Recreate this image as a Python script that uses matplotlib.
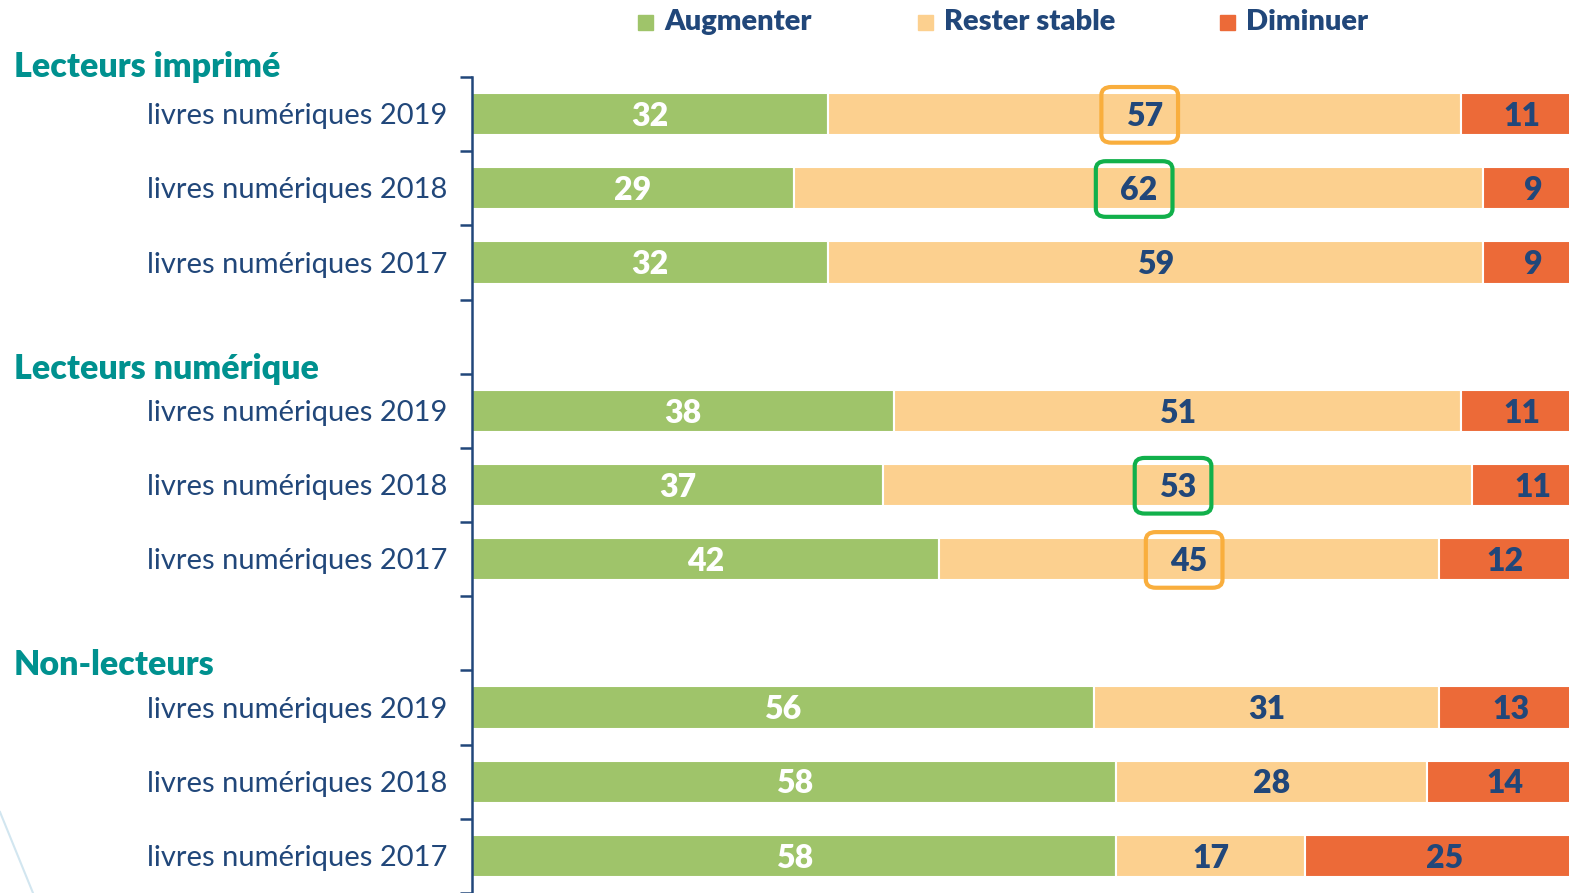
import matplotlib
matplotlib.use('Agg')
import matplotlib.pyplot as plt
from matplotlib.patches import FancyBboxPatch, Rectangle
from matplotlib.lines import Line2D
from matplotlib.transforms import blended_transform_factory

plt.rcParams['font.family'] = ['Lato', 'DejaVu Sans']

# intention d'achat par groupe de lecteurs (en %)
groups = ['Lecteurs imprimé', 'Lecteurs numérique', 'Non-lecteurs']
years = ['2019', '2018', '2017']
augmenter = [32, 29, 32, 38, 37, 42, 56, 58, 58]
stable = [57, 62, 59, 51, 53, 45, 31, 28, 17]
diminuer = [11, 9, 9, 11, 11, 12, 13, 14, 25]
series = ['Augmenter', 'Rester stable', 'Diminuer']
# valeurs encadrées : (index de ligne, couleur du cadre)
highlights = [(0, '#F9AE3D'), (1, '#11B04B'), (4, '#11B04B'), (5, '#F9AE3D')]

c_green = '#9FC46A'
c_stable = '#FCD08F'
c_red = '#EC6A38'
c_text = '#21477A'
c_head = '#00918F'

W, H = 1569, 893
fig = plt.figure(figsize=(W / 100, H / 100), dpi=100)
ax = fig.add_axes([472 / W, 0, 1 - 472 / W, (H - 77) / H])

# 3 lignes par groupe + une ligne vide entre les groupes
ypos = []
for g in range(len(groups)):
    for k in range(len(years)):
        ypos.append(g * 4 + k)

h = 0.57
ax.barh(ypos, augmenter, height=h, color=c_green, edgecolor='white', linewidth=1.5)
left2 = augmenter
ax.barh(ypos, stable, left=left2, height=h, color=c_stable, edgecolor='white', linewidth=1.5)
left3 = [a + s for a, s in zip(augmenter, stable)]
ax.barh(ypos, diminuer, left=left3, height=h, color=c_red, edgecolor='white', linewidth=1.5)

dy = 0.03
fs = 23
for i, y in enumerate(ypos):
    a, s, d = augmenter[i], stable[i], diminuer[i]
    ax.text(a / 2, y + dy, str(a), ha='center', va='center', color='white',
            fontsize=fs, fontweight='heavy')
    ax.text(a + s / 2, y + dy, str(s), ha='center', va='center', color=c_text,
            fontsize=fs, fontweight='heavy')
    ax.text(a + s + d / 2, y + dy, str(d), ha='center', va='center', color=c_text,
            fontsize=fs, fontweight='heavy', clip_on=False)

for i, col in highlights:
    cx = augmenter[i] + stable[i] / 2 - 0.4
    bw, bh = 6.9, 0.75
    box = FancyBboxPatch((cx - bw / 2, ypos[i] - bh / 2 + 0.01), bw, bh,
                         boxstyle='round,pad=0,rounding_size=0.9',
                         mutation_aspect=0.12,
                         fill=False, edgecolor=col, linewidth=3, zorder=5)
    ax.add_patch(box)

xmax = (W - 473) / 11.1
ax.set_xlim(0, xmax)
slot = 74.3
ax.set_ylim((H - 77) / slot - 0.5, -0.5)

for sp in ['top', 'right', 'bottom']:
    ax.spines[sp].set_visible(False)
ax.spines['left'].set_color(c_text)
ax.spines['left'].set_linewidth(1.8)
ax.set_xticks([])
ax.set_yticks([t - 0.5 for t in range(12)])
ax.set_yticklabels([])
ax.tick_params(axis='y', direction='out', length=9, width=1.8, color=c_text)

trans = blended_transform_factory(fig.transFigure, ax.transData)
for i, y in enumerate(ypos):
    ax.text(447 / W, y + dy, 'livres numériques ' + years[i % 3], transform=trans,
            ha='right', va='center', color=c_text, fontsize=21)

head_y = [-0.64, 3.44, 7.43]
for g, name in enumerate(groups):
    ax.text(14 / W, head_y[g], name, transform=trans, ha='left', va='center',
            color=c_head, fontsize=24.5, fontweight='heavy')

# légende
leg_x = [638, 918, 1220]
for x, name, col in zip(leg_x, series, [c_green, c_stable, c_red]):
    fig.patches.append(Rectangle((x / W, 1 - 30 / H), 15 / W, 15 / H,
                                 transform=fig.transFigure, color=col))
    fig.text((x + 26) / W, 1 - 22 / H, name, ha='left', va='center',
             color=c_text, fontsize=21, fontweight='heavy')

# trait décoratif en bas à gauche
fig.add_artist(Line2D([0, 33 / W], [1 - 812 / H, 0], transform=fig.transFigure,
                      color='#D2E6F0', linewidth=1.5))

fig.savefig('out.png', dpi=100)
